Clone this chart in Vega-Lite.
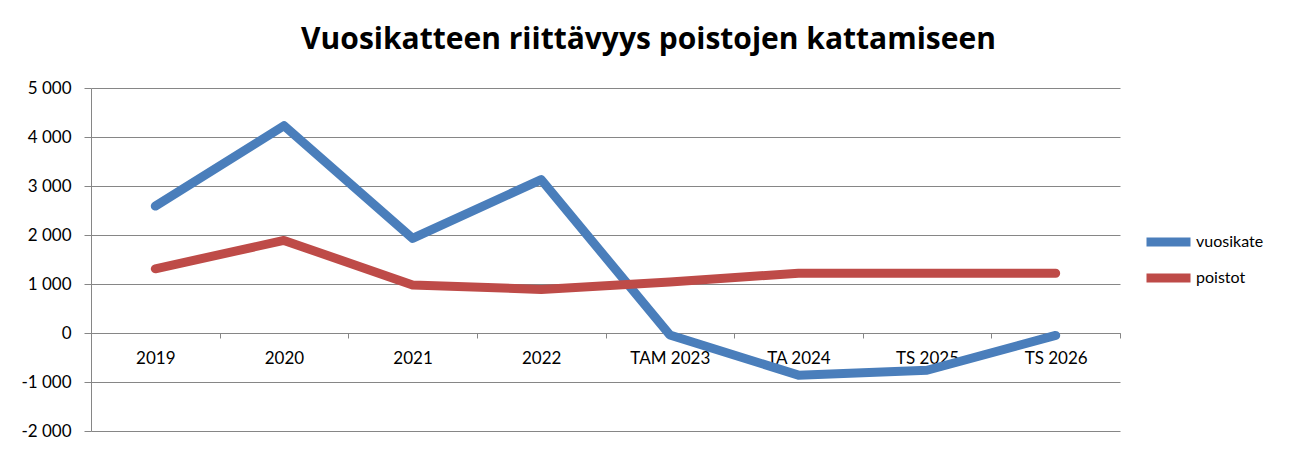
{
  "$schema": "https://vega.github.io/schema/vega-lite/v6.json",
  "autosize": "none",
  "width": 1029,
  "height": 343,
  "padding": {"left": 91, "top": 88, "right": 169, "bottom": 22},
  "background": "white",
  "config": {
    "locale": {"number": {"decimal": ",", "thousands": " ", "grouping": [3], "currency": ["", " €"], "minus": "-"}},
    "view": {"stroke": null},
    "font": "Lato"
  },
  "title": {
    "text": "Vuosikatteen riittävyys poistojen kattamiseen",
    "frame": "group",
    "anchor": "middle",
    "dx": 43,
    "baseline": "alphabetic",
    "offset": 0,
    "font": "Open Sans",
    "fontSize": 30,
    "fontWeight": "bold",
    "color": "#000000"
  },
  "data": {
    "values": [
      {"vuosi": "2019", "sarja": "vuosikate", "arvo": 2590},
      {"vuosi": "2020", "sarja": "vuosikate", "arvo": 4230},
      {"vuosi": "2021", "sarja": "vuosikate", "arvo": 1930},
      {"vuosi": "2022", "sarja": "vuosikate", "arvo": 3130},
      {"vuosi": "TAM 2023", "sarja": "vuosikate", "arvo": -40},
      {"vuosi": "TA 2024", "sarja": "vuosikate", "arvo": -860},
      {"vuosi": "TS 2025", "sarja": "vuosikate", "arvo": -760},
      {"vuosi": "TS 2026", "sarja": "vuosikate", "arvo": -50},
      {"vuosi": "2019", "sarja": "poistot", "arvo": 1310},
      {"vuosi": "2020", "sarja": "poistot", "arvo": 1890},
      {"vuosi": "2021", "sarja": "poistot", "arvo": 980},
      {"vuosi": "2022", "sarja": "poistot", "arvo": 890},
      {"vuosi": "TAM 2023", "sarja": "poistot", "arvo": 1040},
      {"vuosi": "TA 2024", "sarja": "poistot", "arvo": 1220},
      {"vuosi": "TS 2025", "sarja": "poistot", "arvo": 1220},
      {"vuosi": "TS 2026", "sarja": "poistot", "arvo": 1220}
    ]
  },
  "mark": {"type": "line", "strokeWidth": 9, "strokeCap": "round", "strokeJoin": "round"},
  "encoding": {
    "x": {
      "field": "vuosi",
      "type": "ordinal",
      "sort": null,
      "scale": {"type": "band", "paddingInner": 0, "paddingOuter": 0},
      "axis": {
        "title": null,
        "orient": "bottom",
        "offset": -98,
        "labelAngle": 0,
        "tickBand": "extent",
        "domainColor": "#868686",
        "tickColor": "#868686",
        "tickSize": 5,
        "labelPadding": 12,
        "labelFontSize": 17,
        "labelFont": "Lato",
        "labelColor": "#000000",
        "grid": false
      }
    },
    "y": {
      "field": "arvo",
      "type": "quantitative",
      "scale": {"domain": [-2000, 5000], "nice": false, "zero": false},
      "axis": {
        "title": null,
        "values": [-2000, -1000, 0, 1000, 2000, 3000, 4000, 5000],
        "format": ",d",
        "grid": true,
        "gridColor": "#868686",
        "gridWidth": 1,
        "domainColor": "#868686",
        "tickColor": "#868686",
        "tickSize": 7,
        "labelPadding": 13,
        "labelFontSize": 17,
        "labelFont": "Lato",
        "labelColor": "#000000"
      }
    },
    "color": {
      "field": "sarja",
      "type": "nominal",
      "sort": ["vuosikate", "poistot"],
      "scale": {"domain": ["vuosikate", "poistot"], "range": ["#4A7EBB", "#BE4B48"]},
      "legend": {
        "title": null,
        "orient": "none",
        "legendX": 1051,
        "legendY": 146,
        "symbolType": "stroke",
        "symbolSize": 1936,
        "symbolStrokeWidth": 9,
        "clipHeight": 16,
        "labelOffset": 1,
        "rowPadding": 20,
        "labelFontSize": 16,
        "labelFont": "Lato",
        "labelColor": "#000000"
      }
    }
  }
}
